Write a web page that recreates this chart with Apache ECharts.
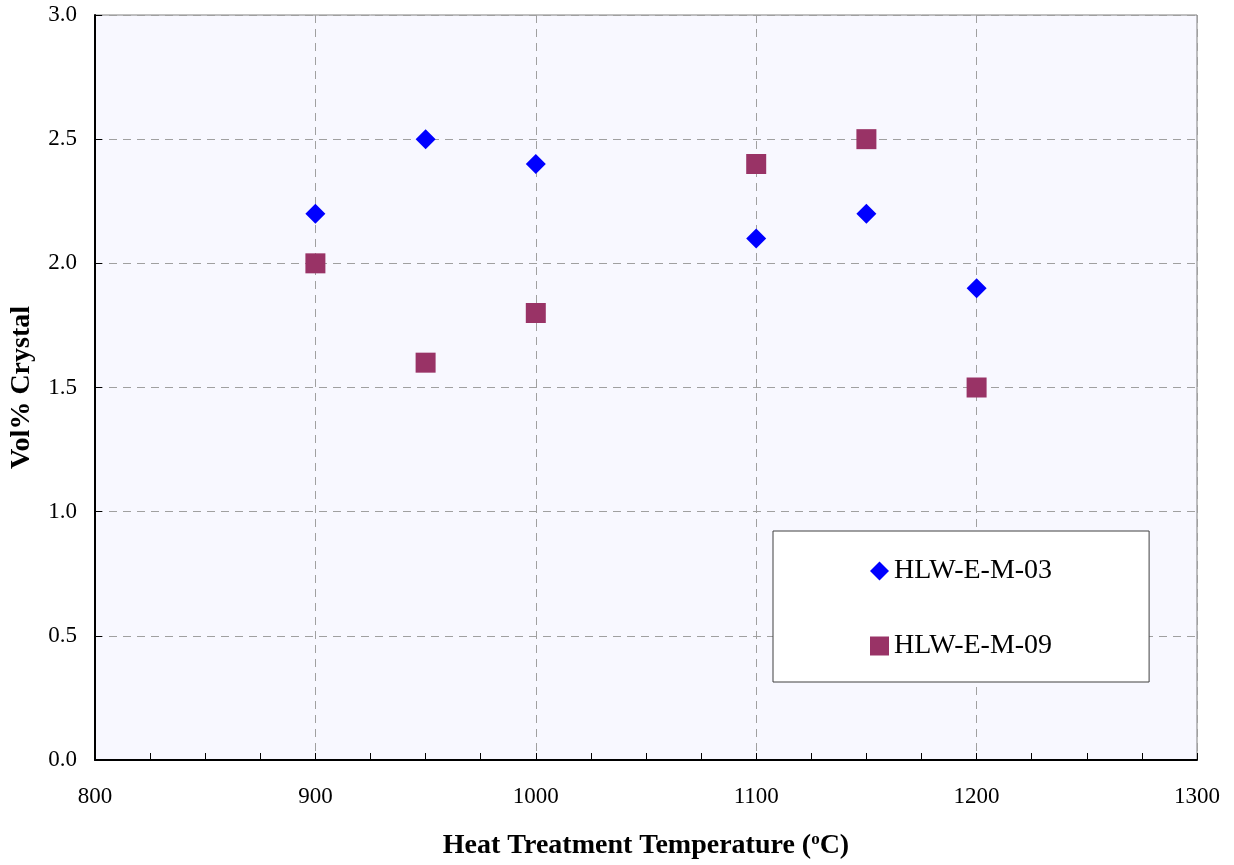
<!DOCTYPE html>
<html>
<head>
<meta charset="utf-8">
<script src="https://cdn.jsdelivr.net/npm/echarts@6/dist/echarts.min.js"></script>
<style>
html,body{margin:0;padding:0;background:#fff;}
#c{width:1234px;height:865px;}
</style>
</head>
<body>
<div id="c"></div>
<script>
const temps03 = [900, 950, 1000, 1100, 1150, 1200];
const vol03   = [2.2, 2.5, 2.4, 2.1, 2.2, 1.9];
const temps09 = [900, 950, 1000, 1100, 1150, 1200];
const vol09   = [2.0, 1.6, 1.8, 2.4, 2.5, 1.5];
const seriesNames = ['HLW-E-M-03', 'HLW-E-M-09'];

const font = '"Liberation Serif", "Times New Roman", serif';
const chart = echarts.init(document.getElementById('c'), null, {renderer: 'canvas'});
chart.setOption({
  animation: false,
  grid: {
    left: 95, right: 37, top: 15, bottom: 105,
    outerBoundsMode: 'none', containLabel: false,
    show: true, backgroundColor: '#F8F8FF', borderColor: '#808080', borderWidth: 1
  },
  xAxis: {
    type: 'value', min: 800, max: 1300, interval: 100,
    name: 'Heat Treatment Temperature ({sup|o}C)',
    nameLocation: 'middle', nameGap: 71,
    nameTextStyle: {
      fontFamily: font, fontSize: 28, fontWeight: 'bold', color: '#000', lineHeight: 30,
      rich: {
        sup: {fontFamily: font, fontSize: 17, fontWeight: 'bold', color: '#000',
              lineHeight: 17, verticalAlign: 'top'}
      }
    },
    axisLine: {show: true, lineStyle: {color: '#000', width: 2}},
    axisTick: {show: true, inside: true, length: 7, lineStyle: {color: '#000', width: 1}},
    minorTick: {show: true, splitNumber: 4, length: 7, lineStyle: {color: '#000', width: 1}},
    axisLabel: {fontFamily: font, fontSize: 23, color: '#000', margin: 25,
      formatter: v => String(v)},
    splitLine: {show: true, lineStyle: {color: '#A0A0A0', type: [8, 6], width: 1}}
  },
  yAxis: {
    type: 'value', min: 0, max: 3, interval: 0.5,
    name: 'Vol% Crystal',
    nameLocation: 'middle', nameGap: 59,
    nameTextStyle: {fontFamily: font, fontSize: 28, fontWeight: 'bold', color: '#000'},
    axisLine: {show: true, lineStyle: {color: '#000', width: 2}},
    axisTick: {show: true, inside: true, length: 7, lineStyle: {color: '#000', width: 1}},
    axisLabel: {fontFamily: font, fontSize: 23, color: '#000', margin: 18,
      formatter: v => v.toFixed(1)},
    splitLine: {show: true, lineStyle: {color: '#A0A0A0', type: [8, 6], width: 1}}
  },
  legend: {
    orient: 'vertical',
    left: 773, top: 531,
    padding: [26, 97, 22, 97],
    itemGap: 47,
    itemWidth: 19, itemHeight: 19,
    backgroundColor: '#fff',
    borderColor: '#404040', borderWidth: 1,
    textStyle: {fontFamily: font, fontSize: 28, color: '#000', lineHeight: 28},
    data: [
      {name: seriesNames[0], icon: 'diamond'},
      {name: seriesNames[1], icon: 'rect'}
    ]
  },
  series: [
    {
      name: seriesNames[0], type: 'scatter', symbol: 'diamond', symbolSize: 20,
      itemStyle: {color: '#0000FF', opacity: 1},
      data: temps03.map((t, i) => [t, vol03[i]])
    },
    {
      name: seriesNames[1], type: 'scatter', symbol: 'rect', symbolSize: 20,
      itemStyle: {color: '#993366', opacity: 1},
      data: temps09.map((t, i) => [t, vol09[i]])
    }
  ]
});
</script>
</body>
</html>
